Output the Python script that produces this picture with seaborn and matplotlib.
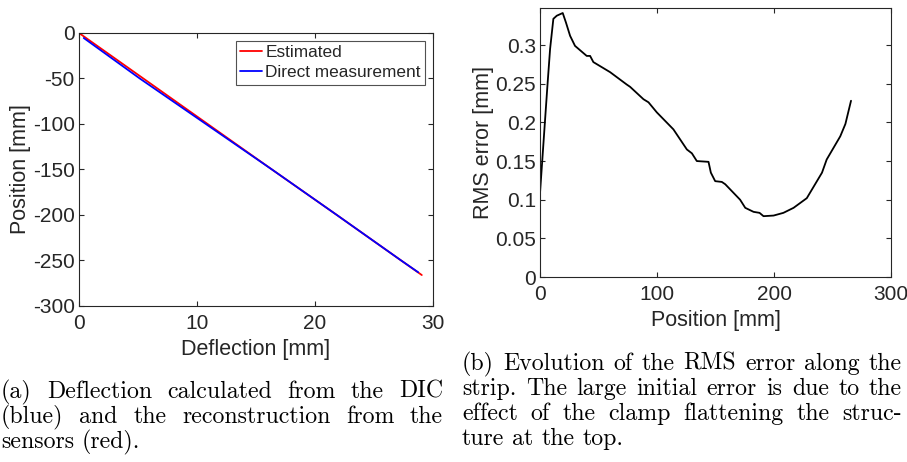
import numpy as np
import pandas as pd
import seaborn as sns
import matplotlib
matplotlib.use("Agg")
import matplotlib.pyplot as plt

# --- data ---
est_deflection = [0.0, 5.45, 10.9, 16.35, 21.85, 27.3, 29.05]
est_position = [0, -50, -100, -150, -200, -250, -266]
dir_deflection = [0.4, 5.15, 10.75, 16.35, 21.85, 27.3, 28.75]
dir_position = [-5.5, -50, -100, -150, -200, -250, -263]

rms_position = [0, 6.3, 8.6, 11.4, 14.3, 19.4, 22.2, 25.7, 29.9, 39.9, 42.8, 45.6,
                59.9, 74.1, 77, 88.4, 92.7, 99.8, 114, 125.5, 129.8, 134, 144, 146,
                149.7, 155.4, 158.3, 171, 175.4, 182.5, 187.6, 191, 199.6, 208,
                216.7, 228, 241, 245, 256.6, 261, 265.8]
rms_error = [0.109, 0.247, 0.295, 0.334, 0.338, 0.3415, 0.329, 0.312, 0.299, 0.286,
             0.286, 0.278, 0.265, 0.249, 0.246, 0.230, 0.226, 0.213, 0.191, 0.165,
             0.160, 0.150, 0.149, 0.135, 0.124, 0.123, 0.120, 0.100, 0.0895, 0.0843,
             0.083, 0.0787, 0.0795, 0.083, 0.0895, 0.102, 0.135, 0.152, 0.182,
             0.198, 0.228]

caption_a = ["(a) Deflection calculated from the DIC",
             "(blue) and the reconstruction from the",
             "sensors (red)."]
caption_b = ["(b) Evolution of the RMS error along the",
             "strip.  The large initial error is due to the",
             "effect of the clamp flattening the struc-",
             "ture at the top."]

sns.set_style("ticks")
plt.rcParams["font.family"] = ["Liberation Sans", "DejaVu Sans"]
plt.rcParams["axes.unicode_minus"] = False
ink = "#262626"

fig = plt.figure(figsize=(9.07, 4.62), dpi=100)
ax1 = fig.add_axes([0.0871, 0.3377, 0.3903, 0.5909])
ax2 = fig.add_axes([0.5954, 0.4004, 0.3870, 0.5823])

df = pd.concat([
    pd.DataFrame({"Deflection": est_deflection, "Position": est_position, "Series": "Estimated"}),
    pd.DataFrame({"Deflection": dir_deflection, "Position": dir_position, "Series": "Direct measurement"}),
])
sns.lineplot(data=df, x="Deflection", y="Position", hue="Series", sort=False,
             palette={"Estimated": "#ff0000", "Direct measurement": "#0000ff"},
             linewidth=1.3, ax=ax1)
ax1.set_xlim(0, 30)
ax1.set_ylim(-300, 0)
ax1.set_xticks([0, 10, 20, 30])
ax1.set_yticks(range(-300, 1, 50))
ax1.set_xlabel("Deflection [mm]", fontsize=15.5, color=ink, labelpad=4)
ax1.set_ylabel("Position [mm]", fontsize=15.5, color=ink, labelpad=1)
leg = ax1.legend(loc="upper right", fontsize=12.4, frameon=True, fancybox=False,
                 edgecolor=ink, handlelength=1.25, handletextpad=0.2,
                 borderpad=0.25, labelspacing=0.3, borderaxespad=0.45)
leg.get_frame().set_linewidth(0.8)

sns.lineplot(x=rms_position, y=rms_error, color="black", linewidth=1.3, ax=ax2)
ax2.set_xlim(0, 300)
ax2.set_ylim(0, 0.348)
ax2.set_xticks([0, 100, 200, 300])
ax2.set_yticks([0, 0.05, 0.1, 0.15, 0.2, 0.25, 0.3])
ax2.set_yticklabels(["0", "0.05", "0.1", "0.15", "0.2", "0.25", "0.3"])
ax2.set_xlabel("Position [mm]", fontsize=15.5, color=ink, labelpad=4)
ax2.set_ylabel("RMS error [mm]", fontsize=15.5, color=ink, labelpad=1)

for ax in (ax1, ax2):
    for sp in ax.spines.values():
        sp.set_visible(True)
        sp.set_color(ink)
        sp.set_linewidth(0.8)
    ax.tick_params(direction="in", length=3.5, width=0.8, color=ink,
                   labelcolor=ink, labelsize=15, top=True, right=True)
    ax.tick_params(axis="x", pad=6)
    ax.tick_params(axis="y", pad=3)

renderer = fig.canvas.get_renderer()
W = fig.bbox.width


def text_w(s, size):
    t = fig.text(0, 0, s, fontsize=size, family="cmr10")
    w = t.get_window_extent(renderer).width / W
    t.remove()
    return w


# pick caption size so that the widest line fills its column
base = 15
box_a = (1 / 907, 443 / 907)
box_b = (462 / 907, 902 / 907)
ratios = []
for lines, (x0, x1) in ((caption_a, box_a), (caption_b, box_b)):
    for ln in lines[:-1]:
        ratios.append((x1 - x0) / text_w(" ".join(ln.split()), base))
cap_size = base * min(ratios) * 0.985


def put_line(text, x0, x1, y, justify, size):
    words = text.split()
    objs = [fig.text(0, y, w, fontsize=size, family="cmr10", va="baseline", color="black")
            for w in words]
    widths = [o.get_window_extent(renderer).width / W for o in objs]
    if justify and len(words) > 1:
        gap = (x1 - x0 - sum(widths)) / (len(words) - 1)
    else:
        gap = text_w("a a", size) - 2 * text_w("a", size)
    x = x0
    for o, w in zip(objs, widths):
        o.set_x(x)
        x += w + gap


ys_a = [398, 423, 448]
for i, line in enumerate(caption_a):
    put_line(line, box_a[0], box_a[1], 1 - ys_a[i] / 462, i < len(caption_a) - 1, cap_size)
ys_b = [370, 395, 420, 445]
for i, line in enumerate(caption_b):
    put_line(line, box_b[0], box_b[1], 1 - ys_b[i] / 462, i < len(caption_b) - 1, cap_size)

fig.savefig("out.png", dpi=100)
